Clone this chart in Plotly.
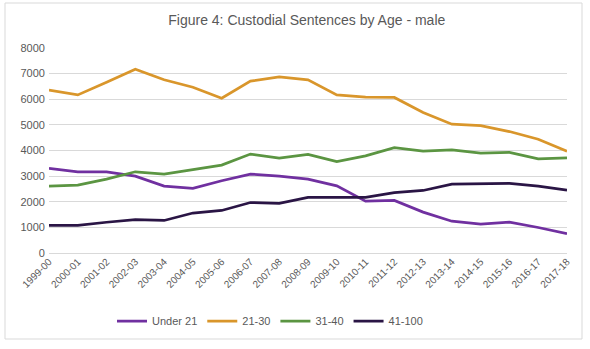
import plotly.graph_objects as go

years = ["1999-00", "2000-01", "2001-02", "2002-03", "2003-04", "2004-05", "2005-06",
         "2006-07", "2007-08", "2008-09", "2009-10", "2010-11", "2011-12", "2012-13",
         "2013-14", "2014-15", "2015-16", "2016-17", "2017-18"]

under21 = [3300, 3170, 3170, 3000, 2610, 2520, 2820, 3080, 3000, 2885, 2620, 2025,
           2050, 1595, 1240, 1125, 1200, 995, 760]
age21_30 = [6360, 6170, 6660, 7170, 6760, 6470, 6040, 6710, 6870, 6760, 6170, 6080,
            6070, 5480, 5025, 4970, 4740, 4440, 3970]
age31_40 = [2610, 2650, 2885, 3170, 3080, 3250, 3430, 3860, 3700, 3850, 3570, 3790,
            4110, 3980, 4020, 3900, 3930, 3670, 3710]
age41_100 = [1075, 1075, 1200, 1305, 1270, 1560, 1660, 1970, 1935, 2170, 2170, 2170,
             2360, 2440, 2690, 2715, 2715, 2610, 2450]

series = [("Under 21", under21, "#7030A0"),
          ("21-30", age21_30, "#D9962B"),
          ("31-40", age31_40, "#5B9542"),
          ("41-100", age41_100, "#2A1545")]

fig = go.Figure()
for name, vals, col in series:
    fig.add_trace(go.Scatter(x=years, y=vals, name=name, mode="lines",
                             line=dict(color=col, width=2.75)))

W, H = 590, 349
L, R, T, B = 49, 23, 48, 96
pw, ph = W - L - R, H - T - B

def px(x):
    return (x - L) / pw

def py(y):
    return (H - B - y) / ph

fig.update_layout(
    width=W, height=H,
    margin=dict(l=L, r=R, t=T, b=B),
    paper_bgcolor="white", plot_bgcolor="white",
    font=dict(family="Liberation Sans, Arial, sans-serif", color="#595959", size=10),
    title=dict(text="Figure 4: Custodial Sentences by Age - male",
               x=0.52, xanchor="center", y=1 - 20 / H, yanchor="middle",
               font=dict(size=14, color="#595959")),
    xaxis=dict(type="category", tickangle=-45, showgrid=False, showline=False,
               ticks="", tickfont=dict(size=10, color="#595959")),
    yaxis=dict(range=[0, 8000], dtick=1000, showgrid=True, gridcolor="#D9D9D9",
               gridwidth=1, zeroline=True, zerolinecolor="#D9D9D9", zerolinewidth=1,
               ticks="", tickfont=dict(size=11, color="#595959"), ticksuffix=" "),
    legend=dict(orientation="h", x=px(112), xanchor="left", y=py(321), yanchor="middle",
                font=dict(size=11, color="#595959"), itemwidth=30,
                traceorder="normal", bgcolor="rgba(0,0,0,0)"),
    showlegend=True,
)

fig.add_shape(type="rect", xref="paper", yref="paper",
              x0=px(5), x1=px(582), y0=py(339), y1=py(3),
              line=dict(color="#D9D9D9", width=1), fillcolor="rgba(0,0,0,0)", layer="below")

fig.write_html("out.html")
